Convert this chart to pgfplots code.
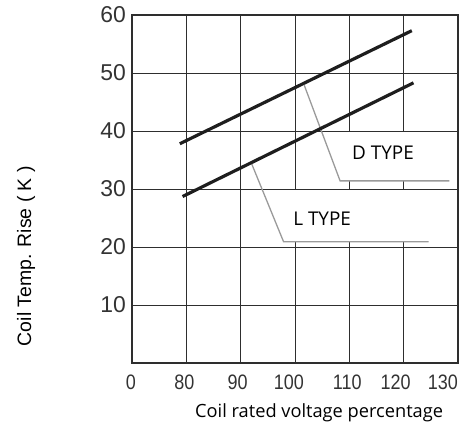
\documentclass[border=0pt]{standalone}
\usepackage{fontspec}
\setmainfont{Liberation Sans}
\newfontfamily\narrowfont[FakeStretch=0.86]{Liberation Sans}
\newfontfamily\segfont{Open Sans}
\usepackage{pgfplots}
\pgfplotsset{compat=1.18}

\definecolor{gridc}{HTML}{2E2E2E}
\definecolor{leader}{HTML}{9A9A9A}
\definecolor{curve}{HTML}{1E1E1E}
\definecolor{tickc}{HTML}{333333}

% shift a tick label sideways without changing its width
\newcommand{\sh}[2]{\kern#1bp\relax#2\kern-#1bp\relax}

\begin{document}
\begin{tikzpicture}
% fixed page: 476 x 431, plot area at (132,15)-(458,363) in image pixels
\path[use as bounding box] (-132bp,-68bp) rectangle (344bp,363bp);
\begin{axis}[
    at={(0,0)}, anchor=south west,
    scale only axis,
    width=326bp, height=348bp,
    xmin=70, xmax=130, ymin=0, ymax=60,
    xtick={70,80,90,100,110,120,130},
    xticklabels={\sh{-1}{0},\sh{-2}{80},\sh{-3}{90},\sh{-6}{100},\sh{-2}{110},\sh{-8}{120},\sh{-15}{130}},
    ytick={10,20,30,40,50,60},
    grid=major,
    major grid style={gridc, line width=0.8pt},
    major tick length=0pt,
    axis line style={gridc, line width=1.1pt},
    /pgf/number format/assume math mode=true,
    xticklabel style={font=\narrowfont\fontsize{21}{21}\selectfont, text=tickc, yshift=-8bp},
    yticklabel style={font=\fontsize{23}{23}\selectfont, text=tickc, xshift=-2.5bp},
    xlabel={Coil rated voltage percentage},
    ylabel={Coil Temp. Rise ( K )},
    xlabel style={font=\segfont\fontsize{18.3}{18.3}\selectfont,
        at={(axis description cs:0.574,-0.144)}, anchor=center},
    ylabel style={font=\fontsize{19.5}{19.5}\selectfont,
        at={(axis description cs:-0.325,0.307)}, anchor=center},
    clip=false,
]
% white label boxes over the grid
\fill[white] (axis cs:101.2,31.3) rectangle (axis cs:129.8,39.85);
\fill[white] (axis cs:95.0,20.8) rectangle (axis cs:129.8,29.85);

% leader lines
\addplot[leader, line width=1.3pt] coordinates {(101.7,47.9) (108.3,31.4) (128.4,31.4)};
\addplot[leader, line width=1.3pt] coordinates {(92.0,34.4) (97.9,20.9) (124.6,20.9)};

% D TYPE
\addplot[curve, line width=3.2pt] coordinates {(78.8,37.8) (121.5,57.3)};
% L TYPE
\addplot[curve, line width=3.2pt] coordinates {(79.3,28.7) (121.8,48.3)};

\node[font=\segfont\fontsize{19}{19}\selectfont] at (axis cs:116.2,36.2) {D TYPE};
\node[font=\segfont\fontsize{19}{19}\selectfont] at (axis cs:105.0,24.8) {L TYPE};
\end{axis}
\end{tikzpicture}
\end{document}
